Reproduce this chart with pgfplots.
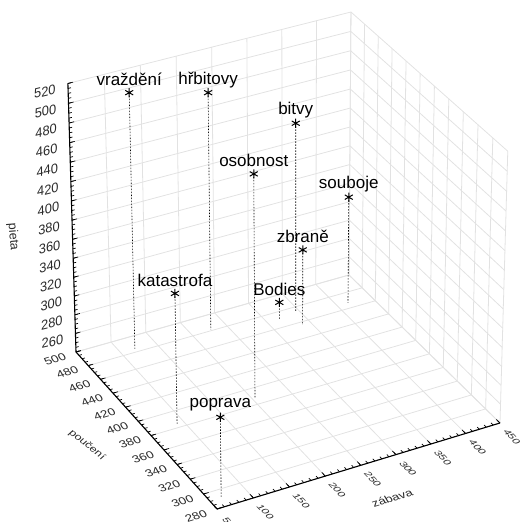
\documentclass[border=0pt]{standalone}
\usepackage{fontspec}
\setmainfont{Liberation Sans}
\usepackage{pgfplots}
\usepackage{pgfplotstable}
\pgfplotsset{compat=1.18}
\definecolor{gridc}{HTML}{E2E2E2}
\definecolor{labc}{HTML}{2A2A2A}

% zabava pouceni pieta name
\pgfplotstableread{
zabava pouceni pieta name
120 484 508 vraždění
227 481 490 hřbitovy
204 388 473 osobnost
346 475 440 bitvy
416 467 354 souboje
338 456 321 zbraně
318 471 258 Bodies
90 384 377 katastrofa
65 290 324 poprava
}\films

% perspective of the box: data (x,y,z) to picture pixels
\pgfplotsset{
  box3d/.style={
    declare function={
      uu(\a)=(\a-50)/400;
      vv(\b)=(\b-280)/220;
      ww(\c)=(\c-240)/280;
      projd(\a,\b,\c)=1+0.03242*uu(\a)+0.05456*vv(\b)-0.03767*ww(\c);
      projx(\a,\b,\c)=(299.21*uu(\a)-136.85*vv(\b)+217-11.11*ww(\c))/projd(\a,\b,\c);
      projy(\a,\b,\c)=522-(-72.29*uu(\a)-137.8*vv(\b)+509-286.3*ww(\c))/projd(\a,\b,\c);
    },
  },
  table/proj/.style={
    x expr={projx(\thisrow{a},\thisrow{b},\thisrow{c})},
    y expr={projy(\thisrow{a},\thisrow{b},\thisrow{c})},
  },
  ticklab/.style={
    draw=none, mark=none, nodes near coords,
    point meta=explicit symbolic,
    every node near coord/.style={
      anchor=center, inner sep=0pt, text=labc,
      font=\fontsize{13}{13}\selectfont, #1},
  },
}
\newcommand\seg[7]{\addplot[#1] table[row sep=\\, proj] {a b c\\ #2 #3 #4\\ #5 #6 #7\\};}

\begin{document}
\begin{tikzpicture}
\path[use as bounding box] (0,0) rectangle (520pt,522pt);
\begin{axis}[
  box3d,
  scale only axis,
  width=520pt, height=522pt,
  xmin=0, xmax=520, ymin=0, ymax=522,
  hide axis,
  clip=false,
]

% grid, back wall / right wall / floor
\pgfplotsset{gl/.style={gridc, line width=0.8pt}}
\pgfplotsinvokeforeach{50,100,...,450}{
  \seg{gl}{#1}{500}{240}{#1}{500}{520}
  \seg{gl}{#1}{280}{240}{#1}{500}{240}
}
\pgfplotsinvokeforeach{280,300,...,500}{
  \seg{gl}{450}{#1}{240}{450}{#1}{520}
  \seg{gl}{50}{#1}{240}{450}{#1}{240}
}
\pgfplotsinvokeforeach{240,260,...,520}{
  \seg{gl}{50}{500}{#1}{450}{500}{#1}
  \seg{gl}{450}{280}{#1}{450}{500}{#1}
}

% axes and ticks
\pgfplotsset{ax/.style={black, line width=1.1pt}, tk/.style={black, line width=0.7pt}}
\seg{ax}{50}{500}{240}{50}{500}{520}
\seg{ax}{50}{280}{240}{50}{500}{240}
\seg{ax}{50}{280}{240}{450}{280}{240}
\pgfplotsinvokeforeach{240,245,...,520}{\seg{tk}{50}{500}{#1}{54}{500}{#1}}
\pgfplotsinvokeforeach{240,260,...,520}{\seg{tk}{50}{500}{#1}{57}{500}{#1}}
\pgfplotsinvokeforeach{280,285,...,500}{\seg{tk}{50}{#1}{240}{54}{#1}{240}}
\pgfplotsinvokeforeach{280,300,...,500}{\seg{tk}{50}{#1}{240}{57}{#1}{240}}
\pgfplotsinvokeforeach{50,60,...,450}{\seg{tk}{#1}{280}{240}{#1}{283}{240}}
\pgfplotsinvokeforeach{50,100,...,450}{\seg{tk}{#1}{280}{240}{#1}{285}{240}}

% tick labels
\addplot[ticklab={xshift=-23pt, yshift=-8pt, cm={0.99,0.24,0,1.05,(0,0)}}]
  table[row sep=\\, proj, meta=c] {a b c\\
  50 500 260\\ 50 500 280\\ 50 500 300\\ 50 500 320\\ 50 500 340\\ 50 500 360\\ 50 500 380\\
  50 500 400\\ 50 500 420\\ 50 500 440\\ 50 500 460\\ 50 500 480\\ 50 500 500\\ 50 500 520\\};
\addplot[ticklab={xshift=-21pt, yshift=-7pt, cm={0.95,0.29,-0.42,0.72,(0,0)}}]
  table[row sep=\\, proj, meta=b] {a b c\\
  50 280 240\\ 50 300 240\\ 50 320 240\\ 50 340 240\\ 50 360 240\\ 50 380 240\\
  50 400 240\\ 50 420 240\\ 50 440 240\\ 50 460 240\\ 50 480 240\\ 50 500 240\\};
\addplot[ticklab={xshift=12pt, yshift=-14pt, cm={0.6,-0.62,0.66,0.25,(0,0)}}]
  table[row sep=\\, proj, meta=a] {a b c\\
  50 280 240\\ 100 280 240\\ 150 280 240\\ 200 280 240\\ 250 280 240\\
  300 280 240\\ 350 280 240\\ 400 280 240\\ 450 280 240\\};

% drop lines
\pgfplotsset{dl/.style={black, line width=0.6pt, dash pattern=on 1.5pt off 1.5pt}}
\seg{dl}{120}{484}{508}{120}{484}{240}
\seg{dl}{227}{481}{490}{227}{481}{240}
\seg{dl}{204}{388}{473}{204}{388}{240}
\seg{dl}{346}{475}{440}{346}{475}{240}
\seg{dl}{416}{467}{354}{416}{467}{240}
\seg{dl}{338}{456}{321}{338}{456}{240}
\seg{dl}{318}{471}{258}{318}{471}{240}
\seg{dl}{90}{384}{377}{90}{384}{240}
\seg{dl}{65}{290}{324}{65}{290}{240}

% points
\addplot[
  only marks, mark=asterisk, mark size=4.6pt,
  mark options={black, line width=1pt},
  nodes near coords,
  point meta=explicit symbolic,
  every node near coord/.style={
    anchor=center, inner sep=0pt, yshift=13pt, text=black,
    font=\fontsize{17}{17}\selectfont},
] table[
  x expr={projx(\thisrow{zabava},\thisrow{pouceni},\thisrow{pieta})},
  y expr={projy(\thisrow{zabava},\thisrow{pouceni},\thisrow{pieta})},
  meta=name,
] {\films};

% axis titles
\node[text=labc, inner sep=0pt, rotate=-85, font=\fontsize{12.5}{12.5}\selectfont]
  at (axis cs:13,285) {pieta};
\node[text=labc, inner sep=0pt, cm={0.72,-0.58,0.55,0.5,(0,0)}, font=\fontsize{13}{13}\selectfont]
  at (axis cs:87,77) {poučení};
\node[text=labc, inner sep=0pt, cm={0.95,0.3,-0.42,0.72,(0,0)}, font=\fontsize{13}{13}\selectfont]
  at (axis cs:392,24) {zábava};

\end{axis}
\end{tikzpicture}
\end{document}
